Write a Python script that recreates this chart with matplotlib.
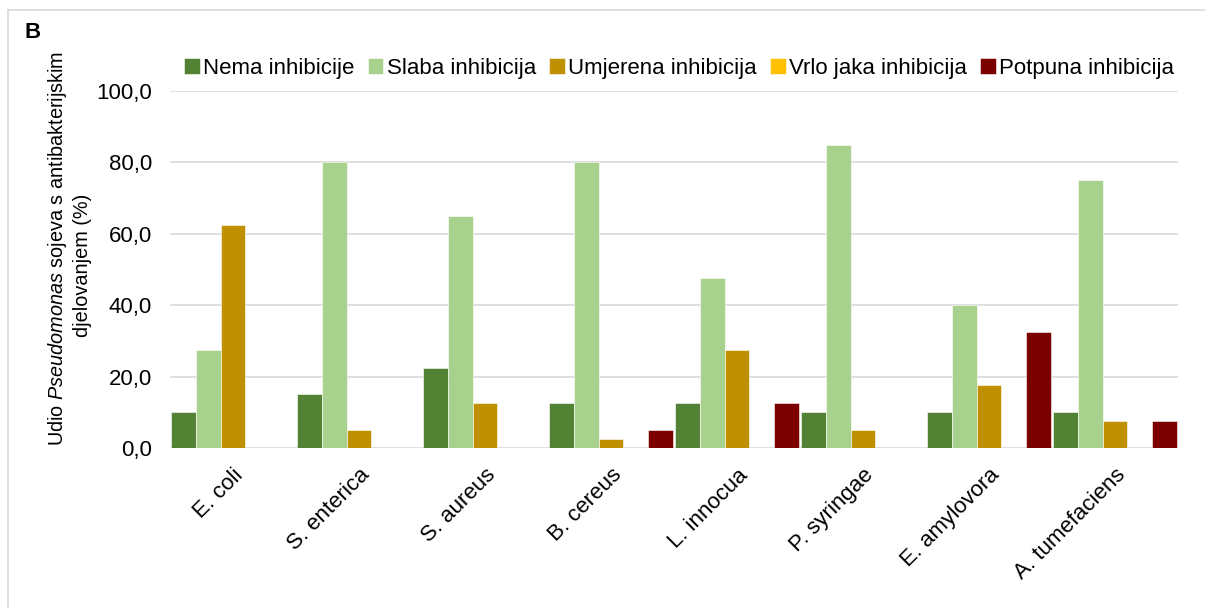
import numpy as np
import matplotlib
matplotlib.use("Agg")
import matplotlib.pyplot as plt
from matplotlib.lines import Line2D

plt.rcParams['font.family'] = ['Liberation Sans', 'DejaVu Sans']
plt.rcParams['mathtext.fontset'] = 'custom'
plt.rcParams['mathtext.rm'] = 'Liberation Sans'
plt.rcParams['mathtext.it'] = 'Liberation Sans:italic'

bacteria = ['E. coli', 'S. enterica', 'S. aureus', 'B. cereus', 'L. innocua',
            'P. syringae', 'E. amylovora', 'A. tumefaciens']
series_names = ['Nema inhibicije', 'Slaba inhibicija', 'Umjerena inhibicija',
                'Vrlo jaka inhibicija', 'Potpuna inhibicija']
nema = [10.0, 15.0, 22.5, 12.5, 12.5, 10.0, 10.0, 10.0]
slaba = [27.5, 80.0, 65.0, 80.0, 47.5, 85.0, 40.0, 75.0]
umjerena = [62.5, 5.0, 12.5, 2.5, 27.5, 5.0, 17.5, 7.5]
vrlo_jaka = [0.0, 0.0, 0.0, 0.0, 0.0, 0.0, 0.0, 0.0]
potpuna = [0.0, 0.0, 0.0, 5.0, 12.5, 0.0, 32.5, 7.5]
colors = ['#548235', '#A9D18E', '#BF9000', '#FFC000', '#7B0000']
yticks = [0, 20, 40, 60, 80, 100]

fig = plt.figure(figsize=(12.05, 6.08), dpi=100)
ax = fig.add_axes([0.1411, 0.2632, 0.8365, 0.5872])

x = np.arange(len(bacteria))
w = 0.198
all_series = [nema, slaba, umjerena, vrlo_jaka, potpuna]
for i, (vals, name, c) in enumerate(zip(all_series, series_names, colors)):
    ax.bar(x + (i - 2) * w, vals, width=w, color=c, label=name,
           edgecolor='white', linewidth=0.4, zorder=3)

ax.set_xlim(-0.5, len(bacteria) - 0.5)
ax.set_ylim(0, 100)
ax.set_yticks(yticks)
ax.set_yticklabels([f'{v:.1f}'.replace('.', ',') for v in yticks], fontsize=16)
ax.yaxis.grid(True, color='#d9d9d9', linewidth=1.2, zorder=0)
ax.set_axisbelow(True)
for s in ax.spines.values():
    s.set_visible(False)
ax.tick_params(axis='both', length=0)
ax.tick_params(axis='y', pad=13)

ax.set_xticks(x)
ax.set_xticklabels(bacteria, rotation=45, ha='right', va='top',
                   rotation_mode='anchor', fontsize=16)
ax.tick_params(axis='x', pad=12)

ax.legend(loc='center', bbox_to_anchor=(0.505, 1.064), ncol=5, frameon=False,
          fontsize=16, handlelength=0.7, handleheight=0.7, handletextpad=0.15,
          columnspacing=0.6, borderaxespad=0)

fig.text(58 / 1205, 1 - 248 / 608, 'Udio $\\it{Pseudomonas}$ sojeva s antibakterijskim',
         rotation=90, ha='center', va='center', fontsize=14.3)
fig.text(82 / 1205, 1 - 265 / 608, 'djelovanjem (%)',
         rotation=90, ha='center', va='center', fontsize=14.3)
fig.text(25 / 1205, 1 - 32 / 608, 'B', fontsize=16, fontweight='bold', ha='left', va='center')

# light frame like the source image
fig.add_artist(Line2D([8 / 1205, 1], [1 - 10 / 608, 1 - 10 / 608], color='#d9d9d9', lw=1.2,
                      transform=fig.transFigure))
fig.add_artist(Line2D([8 / 1205, 8 / 1205], [0, 1 - 10 / 608], color='#d9d9d9', lw=1.2,
                      transform=fig.transFigure))

fig.savefig('out.png', dpi=100)
